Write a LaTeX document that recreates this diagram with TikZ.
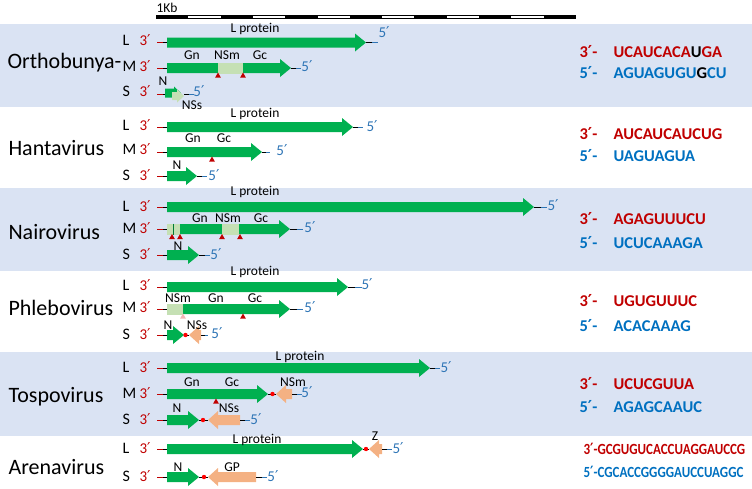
\documentclass[tikz,border=0pt]{standalone}
\usepackage{fontspec}
\usepackage{graphicx}
\setmainfont{Carlito}
\newfontfamily\djv{DejaVu Sans}
\newcommand\pr{{\djv\char"2032}}
\definecolor{band}{HTML}{DAE3F3}
\definecolor{gr}{HTML}{00B050}
\definecolor{lg}{HTML}{C5E0B4}
\definecolor{org}{HTML}{F4B183}
\definecolor{rd}{HTML}{C00000}
\definecolor{bl}{HTML}{0070C0}
\definecolor{bl2}{HTML}{2E75B6}
\definecolor{pk}{HTML}{F4B6B6}
% forward arrow: [colour] x1 x2 y
\newcommand\fwdarrow[4][gr]{\fill[#1] (#2,#4-5) -- (#3-11,#4-5) -- (#3-11,#4-9) -- (#3,#4) -- (#3-11,#4+9) -- (#3-11,#4+5) -- (#2,#4+5) -- cycle;}
% reverse arrow: tip x, end x, y
\newcommand\revarrow[3]{\fill[org] (#1,#3) -- (#1+10,#3-9) -- (#1+10,#3-5) -- (#2,#3-5) -- (#2,#3+5) -- (#1+10,#3+5) -- (#1+10,#3+9) -- cycle;}
% left tail: x end, y
\newcommand\ltail[2]{\draw[rd,line width=1pt] (157,#2) -- (163,#2); \draw[line width=1pt] (163,#2) -- (#1,#2);}
% right tail: x1 x2 y
\newcommand\rtail[3]{\draw[line width=0.9pt] (#1,#3) -- ({(#1+#2)/2},#3); \draw[bl2,line width=0.9pt] ({(#1+#2)/2},#3) -- (#2,#3);}
\newcommand\tri[2]{\fill[rd] (#1,#2) -- (#1-2.8,#2+5) -- (#1+2.8,#2+5) -- cycle;}
\newcommand\rdot[2]{\fill[red] (#1,#2) circle (2.2);}
\newcommand\row[2]{\node[seg] at (119,#2) {#1}; \node[three] at (136,#2) {3\pr};}
\newcommand\five[2]{\node[fivel] at (#1,#2) {5\pr};}
\tikzset{
  vname/.style={anchor=west, font=\fontsize{22}{22}\selectfont},
  seg/.style={anchor=west, font=\fontsize{16}{16}\selectfont},
  three/.style={anchor=west, text=rd, font=\fontsize{15}{15}\selectfont},
  fivel/.style={text=bl2, font=\fontsize{15}{15}\selectfont},
  lab/.style={font=\fontsize{13.5}{13.5}\selectfont},
  seqr/.style={anchor=west, text=rd, font=\fontsize{16.5}{16.5}\selectfont\bfseries},
  seqb/.style={anchor=west, text=bl, font=\fontsize{16.5}{16.5}\selectfont\bfseries},
}
\begin{document}
\begin{tikzpicture}[x=1pt,y=-1pt]
\useasboundingbox (0,0) rectangle (752,488);
% bands
\fill[band] (0,24) rectangle (752,107);
\fill[band] (0,188) rectangle (752,271);
\fill[band] (0,352) rectangle (752,436);
% scale bar
\node[anchor=west, font=\fontsize{13.5}{13.5}\selectfont] (kb) at (153,8) {1Kb};
\fill[black] (156,14.8) rectangle (576,18.6);
\foreach \i in {1,3,5,7,9,11} {
  \fill[white] ({156+\i*420/13},15.9) rectangle ({156+(\i+1)*420/13},17.5);
}
% ---------------- Orthobunya
\node[vname] (o) at (4,63) {Orthobunya-};
\row{L}{40}\row{M}{66}\row{S}{91}
\ltail{167}{42.5}\fwdarrow{167}{366}{42.5}\rtail{366}{378}{42.5}
\node[fivel] at (384,32) {5\pr};
\node[lab] at (255,29) {L protein};
\ltail{167}{68}\fwdarrow{167}{291}{68}
\fill[lg] (218,62.5) rectangle (243,73.5);
\rtail{291}{301}{68}\five{307}{66}
\tri{218}{72.5}\tri{243}{72.5}
\node[lab] at (192,55) {Gn};\node[lab] at (227,55) {NSm};\node[lab] at (260,55) {Gc};
\ltail{165}{94}
\fill[gr] (165,88.5) -- (174,88.5) -- (174,86.5) -- (181,93) -- (174,99.5) -- (174,97.5) -- (165,97.5) -- cycle;
\fill[lg] (172,92) -- (177,92) -- (177,89.5) -- (184,96) -- (177,102.5) -- (177,100) -- (172,100) -- cycle;
\rtail{184}{194}{94}\five{199}{91}
\node[lab] at (163,81) {N};\node[lab] at (192,105) {NSs};
% ---------------- Hantavirus
\node[vname] (h) at (5,148) {Hantavirus};
\row{L}{125}\row{M}{149}\row{S}{175}
\ltail{167}{127}\fwdarrow{167}{353}{127}\rtail{353}{363}{127}\five{372}{126}
\node[lab] at (255,114) {L protein};
\ltail{167}{152}\fwdarrow{167}{262}{152}\rtail{262}{270}{152}\five{282}{150}
\tri{212}{156.5}
\node[lab] at (193,138) {Gn};\node[lab] at (224,138) {Gc};
\ltail{167}{176}\fwdarrow{167}{197}{176}\rtail{197}{207}{176}\five{214}{175}
\node[lab] at (177,165) {N};
% ---------------- Nairovirus
\node[vname] (n) at (5,232) {Nairovirus};
\row{L}{206}\row{M}{228}\row{S}{254}
\ltail{167}{207}\fwdarrow{167}{534}{207}\rtail{534}{547}{207}\five{553}{205}
\node[lab] at (255,192) {L protein};
\ltail{167}{229}\fwdarrow{167}{290}{229}
\fill[lg] (167,223.5) rectangle (180,234.5);
\draw[gr!70!black, line width=0.4pt] (173,223.5) -- (173,234.5);
\fill[lg] (222,223.5) rectangle (239,234.5);
\rtail{290}{303}{229}\five{310}{227}
\tri{172}{234}\tri{180}{234}\tri{222}{234}\tri{240}{234}
\node[lab] at (200,218) {Gn};\node[lab] at (228,218) {NSm};\node[lab] at (261,218) {Gc};
\node[lab] at (178,246) {N};
\ltail{167}{255}\fwdarrow{167}{199}{255}\rtail{199}{210}{255}\five{216}{254}
% ---------------- Phlebovirus
\node[vname] (p) at (5,308) {Phlebovirus};
\row{L}{285}\row{M}{307}\row{S}{334}
\ltail{167}{287}\fwdarrow{167}{348}{287}\rtail{348}{362}{287}\five{367}{284}
\node[lab] at (255,272) {L protein};
\ltail{167}{309}\fwdarrow{167}{290}{309}
\fill[lg] (167,303.5) rectangle (183,314.5);
\rtail{290}{303}{309}\five{310}{307}
\fill[pk] (183,313.5) -- (180.2,318.5) -- (185.8,318.5) -- cycle;
\tri{243}{313.5}
\node[lab] at (178,298) {NSm};\node[lab] at (216,298) {Gn};\node[lab] at (255,298) {Gc};
\ltail{167}{335}\draw[line width=0.9pt] (184,335) -- (189,335);
\fwdarrow{167}{184}{335}\revarrow{189}{201}{335}\rdot{185.5}{335}
\rtail{201}{208}{335}\five{217}{333}
\node[lab] at (168,325) {N};\node[lab] at (197,325) {NSs};
% ---------------- Tospovirus
\node[vname] (t) at (5,397) {Tospovirus};
\row{L}{367}\row{M}{393}\row{S}{419}
\ltail{167}{368}\fwdarrow{167}{430}{368}\rtail{430}{440}{368}\five{446}{367}
\node[lab] at (300,357) {L protein};
\ltail{167}{394}\draw[line width=0.9pt] (268,394) -- (276,394);
\fwdarrow{167}{268}{394}\revarrow{276}{292}{394}\rdot{272.5}{394}
\rtail{292}{302}{394}\five{307}{392}
\tri{216}{398.5}
\node[lab] at (192,382) {Gn};\node[lab] at (232,382) {Gc};\node[lab] at (293,382) {NSm};
\ltail{167}{420}\draw[line width=0.9pt] (199,420) -- (208,420);
\fwdarrow{167}{199}{420}\revarrow{208}{240}{420}\rdot{203}{420}
\rtail{240}{250}{420}\five{256}{419}
\node[lab] at (177,408) {N};\node[lab] at (229,408) {NSs};
% ---------------- Arenavirus
\node[vname] (a) at (5,467) {Arenavirus};
\row{L}{448}\row{S}{476}
\ltail{167}{449}\draw[line width=0.9pt] (363,449) -- (369,449);
\fwdarrow{167}{363}{449}\revarrow{369}{382}{449}\rdot{366}{449}
\rtail{382}{392}{449}\five{398}{448}
\node[lab] at (257,440) {L protein};\node[lab] at (375,436) {Z};
\ltail{167}{477}\draw[line width=0.9pt] (199,477) -- (208,477);
\fwdarrow{167}{199}{477}\revarrow{208}{256}{477}\rdot{204}{477}
\rtail{256}{267}{477}\five{273}{476}
\node[lab] at (178,467) {N};\node[lab] at (232,467) {GP};
% ---------------- sequences
\node[seqr] at (576,52) {3\pr-};\node[seqr] at (610,52) {UCAUCACA\textcolor{black}{U}GA};
\node[seqb] at (576,73) {5\pr-};\node[seqb] at (610,73) {AGUAGUGU\textcolor{black}{G}CU};
\node[seqr] at (576,134) {3\pr-};\node[seqr] at (610,134) {AUCAUCAUCUG};
\node[seqb] at (576,156) {5\pr-};\node[seqb] at (610,156) {UAGUAGUA};
\node[seqr] at (576,219) {3\pr-};\node[seqr] at (610,219) {AGAGUUUCU};
\node[seqb] at (576,243) {5\pr-};\node[seqb] at (610,243) {UCUCAAAGA};
\node[seqr] at (576,301) {3\pr-};\node[seqr] at (610,301) {UGUGUUUC};
\node[seqb] at (576,326) {5\pr-};\node[seqb] at (610,326) {ACACAAAG};
\node[seqr] at (576,384) {3\pr-};\node[seqr] at (610,384) {UCUCGUUA};
\node[seqb] at (576,407) {5\pr-};\node[seqb] at (610,407) {AGAGCAAUC};
\node[seqr, font=\fontsize{15.5}{15.5}\selectfont\bfseries] at (580,449) {\scalebox{0.84}[1]{3\pr-GCGUGUCACCUAGGAUCCG}};
\node[seqb, font=\fontsize{15.5}{15.5}\selectfont\bfseries] at (580,472) {\scalebox{0.84}[1]{5\pr-CGCACCGGGGAUCCUAGGC}};
\end{tikzpicture}
\end{document}
